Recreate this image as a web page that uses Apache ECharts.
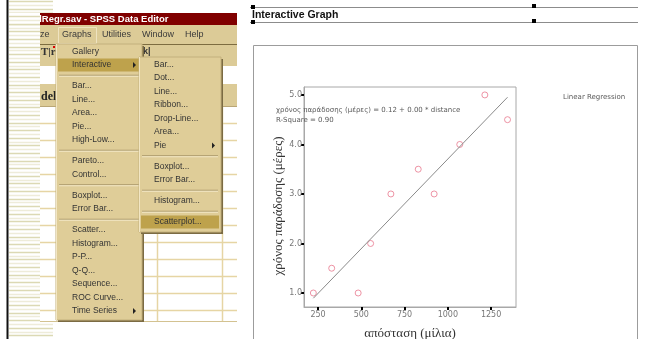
<!DOCTYPE html>
<html>
<head>
<meta charset="utf-8">
<script src="https://cdn.jsdelivr.net/npm/echarts@6/dist/echarts.min.js"></script>
<style>
html, body { margin: 0; padding: 0; background: #fff; }
#main { width: 663px; height: 339px; }
</style>
</head>
<body>
<div id="main"></div>
<script>
// scatter data
var distance = [223, 329, 482, 554, 671, 829, 921, 1069, 1214, 1345];
var deliveryDays = [1.0, 1.5, 1.0, 2.0, 3.0, 3.5, 3.0, 4.0, 5.0, 4.5];
var xTicks = [250, 500, 750, 1000, 1250];
var yTicks = [1, 2, 3, 4, 5];

var xTitle = 'απόσταση (μίλια)';
var yTitle = 'χρόνος παράδοσης (μέρες)';
var fitLines = ['χρόνος παράδοσης (μέρες) = 0.12 + 0.00 * distance', 'R-Square = 0.90'];
var fitLegend = 'Linear Regression';
var panelTitle = 'Interactive Graph';

// the SPSS menu screenshot on the left
var windowTitle = 'dRegr.sav - SPSS Data Editor';
var menuBar = ['ze', 'Graphs', 'Utilities', 'Window', 'Help'];
var graphsMenu = ['Gallery', 'Interactive', '-', 'Bar...', 'Line...', 'Area...', 'Pie...', 'High-Low...', '-',
    'Pareto...', 'Control...', '-', 'Boxplot...', 'Error Bar...', '-', 'Scatter...', 'Histogram...', 'P-P...',
    'Q-Q...', 'Sequence...', 'ROC Curve...', 'Time Series'];
var interactiveMenu = ['Bar...', 'Dot...', 'Line...', 'Ribbon...', 'Drop-Line...', 'Area...', 'Pie', '-',
    'Boxplot...', 'Error Bar...', '-', 'Histogram...', '-', 'Scatterplot...'];
var subMenuItems = ['Interactive', 'Time Series', 'Pie'];
var pickedItems = ['Interactive', 'Scatterplot...'];

// least squares line through the points
function fit(xs, ys) {
    var n = xs.length, mx = 0, my = 0, sxy = 0, sxx = 0;
    for (var i = 0; i < n; i++) { mx += xs[i] / n; my += ys[i] / n; }
    for (var j = 0; j < n; j++) {
        sxy += (xs[j] - mx) * (ys[j] - my);
        sxx += (xs[j] - mx) * (xs[j] - mx);
    }
    var b = sxy / sxx;
    return { a: my - b * mx, b: b };
}
var reg = fit(distance, deliveryDays);
var xLo = Math.min.apply(null, distance), xHi = Math.max.apply(null, distance);

var points = distance.map(function (d, i) { return [d, deliveryDays[i]]; });

var els = [];
function rect(x, y, w, h, fill, stroke, z) {
    els.push({ type: 'rect', shape: { x: x, y: y, width: w, height: h },
        style: { fill: fill || 'none', stroke: stroke || null, lineWidth: 1 }, z: z || 1, silent: true });
}
function line(x1, y1, x2, y2, color, w, z) {
    els.push({ type: 'line', shape: { x1: x1, y1: y1, x2: x2, y2: y2 },
        style: { stroke: color, lineWidth: w || 1 }, z: z || 1, silent: true });
}
function text(x, y, t, font, fill, z, align) {
    els.push({ type: 'text', x: x, y: y,
        style: { text: t, font: font, fill: fill, align: align || 'left', verticalAlign: 'middle' }, z: z || 1, silent: true });
}
function arrow(x, y, z) {
    els.push({ type: 'polygon', shape: { points: [[x, y - 3], [x + 3, y], [x, y + 3]] },
        style: { fill: '#222' }, z: z, silent: true });
}
function stripes(x1, x2, y1, y2, z) {
    var i = 0;
    for (var y = 1; y < 339; y += 3.8) {
        if (y >= y1 && y <= y2) {
            line(x1, Math.round(y) + 0.5, x2, Math.round(y) + 0.5, i % 2 ? '#eeecd9' : '#dcd9b4', 1.5, z);
        }
        i++;
    }
}
function menu(items, x, w, textX, firstY, z) {
    var top = firstY - 6.75;
    items.forEach(function (it) {
        if (it === '-') {
            line(x + 3, top + 3.5, x + w - 3, top + 3.5, '#a8966a', 1, z + 1);
            line(x + 3, top + 4.5, x + w - 3, top + 4.5, '#f3e8c6', 1, z + 1);
            top += 7.5;
            return;
        }
        var cy = top + 6.75;
        if (pickedItems.indexOf(it) >= 0) rect(x + 2, cy - 6.5, w - 4, 13, '#bea24c', null, z + 1);
        text(textX, cy, it, '8.5px "Liberation Sans"', '#333', z + 2);
        if (subMenuItems.indexOf(it) >= 0) arrow(x + w - 9, cy, z + 2);
        top += 13.5;
    });
}

// left striped margin and black rule
stripes(9, 53, 0, 339, 1);
line(7.5, 0, 7.5, 339, '#111', 2, 2);

// data editor window
rect(40, 13, 197, 309, '#fff', null, 10);
rect(40, 13, 197, 12, '#800000', null, 11);
text(36, 19, windowTitle, 'bold 9.5px "Liberation Sans"', '#fff', 12);
rect(40, 25, 197, 19, '#dccb97', null, 11);
var barX = [40, 62, 102, 142, 185];
menuBar.forEach(function (m, i) { text(barX[i], 35, m, '9px "Liberation Sans"', '#3a3a3a', 12); });
rect(58.5, 27.5, 38, 16, null, '#efe3c0', 12);
rect(40, 44, 197, 22, '#dccb97', null, 11);
line(40, 44.5, 237, 44.5, '#7d6c40', 1, 12);
text(41, 52, 'T|r', 'bold 11px "Liberation Serif"', '#333', 12);
rect(53, 46, 2, 2, '#d00', null, 12);
text(143, 52, 'k|', 'bold 9px "Liberation Sans"', '#333', 12);
rect(40, 84, 197, 23, '#dccb97', null, 11);
line(40, 106.5, 237, 106.5, '#b9a676', 1, 12);
text(41, 97, 'del', 'bold 12px "Liberation Serif"', '#222', 12);
for (var r = 123; r <= 310; r += 17) line(40, r + 0.5, 237, r + 0.5, '#e6d5a4', 1.5, 12);
line(157.5, 107, 157.5, 322, '#e6d5a4', 1.5, 12);
line(222.5, 107, 222.5, 322, '#e6d5a4', 1.5, 12);
line(40, 321.5, 237, 321.5, '#d3c291', 1, 12);

// cover the clipped start of the title
rect(9, 13, 31, 12, '#fff', null, 13);
stripes(9, 40, 13, 25, 14);

// Graphs menu and its Interactive submenu
rect(58, 46, 86, 276, '#7b6b43', null, 20);
rect(56, 44, 86, 276, '#dfcd98', '#c3b07c', 21);
line(56.5, 44, 56.5, 320, '#f2e6c4', 1, 22);
menu(graphsMenu, 56, 86, 72, 51.5, 22);

rect(141, 59, 82, 175, '#7b6b43', null, 30);
rect(139, 57, 82, 175, '#dfcd98', '#c3b07c', 31);
line(139.5, 57, 139.5, 232, '#f2e6c4', 1, 32);
menu(interactiveMenu, 139, 82, 154, 64.5, 32);

// right panel: header strip and chart frame
line(250, 7.5, 638, 7.5, '#8c8c8c', 1, 2);
line(250, 22.5, 638, 22.5, '#8c8c8c', 1, 2);
[[251, 5], [251, 20], [532, 4], [532, 19]].forEach(function (p) { rect(p[0], p[1], 4, 4, '#000', null, 4); });
text(252, 15, panelTitle, 'bold 10.5px "Liberation Sans"', '#111', 3);
rect(253.5, 45.5, 384, 300, null, '#9c9c9c', 1);
text(276, 110, fitLines[0], '7px "DejaVu Sans"', '#5a5a5a', 100);
text(276, 120, fitLines[1], '7px "DejaVu Sans"', '#5a5a5a', 100);
text(563, 97, fitLegend, '7px "DejaVu Sans"', '#5a5a5a', 100);
// rotated y title, placed like the reference
els.push({ type: 'text', x: 279, y: 206, rotation: Math.PI / 2, z: 5, silent: true,
    style: { text: yTitle, font: '13px "Liberation Serif"', fill: '#333', align: 'center', verticalAlign: 'middle' } });

var option = {
    backgroundColor: '#fff',
    animation: false,
    grid: {
        left: 304, top: 87, width: 212, height: 220,
        containLabel: false, outerBoundsMode: 'none',
        show: true, borderColor: '#a8a8a8', borderWidth: 1, backgroundColor: '#fff'
    },
    xAxis: {
        type: 'value', min: 169, max: 1394,
        name: xTitle, nameLocation: 'middle', nameGap: 20,
        nameTextStyle: { fontFamily: 'Liberation Serif', fontSize: 13, color: '#333' },
        axisLine: { show: true, lineStyle: { color: '#a8a8a8' } },
        axisTick: { show: true, customValues: xTicks, length: 3, lineStyle: { color: '#000', width: 2 } },
        axisLabel: {
            customValues: xTicks, color: '#777', fontSize: 8, fontFamily: 'DejaVu Sans', margin: 4,
            formatter: function (v) { return String(v); }
        },
        splitLine: { show: false }
    },
    yAxis: {
        type: 'value', min: 0.717, max: 5.16,
        axisLine: { show: true, lineStyle: { color: '#a8a8a8' } },
        axisTick: { show: true, customValues: yTicks, length: 3, lineStyle: { color: '#000', width: 2 } },
        axisLabel: {
            customValues: yTicks, color: '#777', fontSize: 8, fontFamily: 'DejaVu Sans', margin: 2,
            formatter: function (v) { return v.toFixed(1); }
        },
        splitLine: { show: false }
    },
    series: [
        {
            type: 'line',
            data: [[xLo, reg.a + reg.b * xLo], [xHi, reg.a + reg.b * xHi]],
            showSymbol: false, silent: true,
            lineStyle: { color: '#8a8a8a', width: 1 }
        },
        {
            type: 'scatter',
            data: points,
            symbol: 'circle', symbolSize: 6,
            itemStyle: { color: 'rgba(255,255,255,0)', borderColor: '#e8798f', borderWidth: 1 }
        }
    ],
    graphic: { elements: els }
};

var chart = echarts.init(document.getElementById('main'));
chart.setOption(option);
</script>
</body>
</html>
